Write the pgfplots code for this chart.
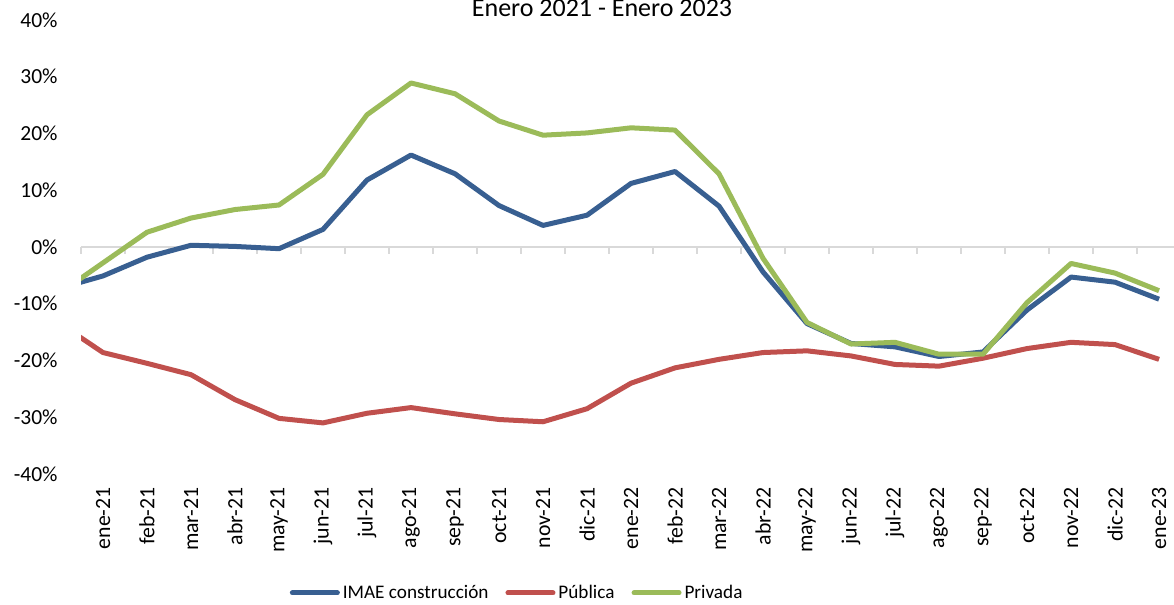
\documentclass[border=0pt]{standalone}
\usepackage{pgfplots}
\pgfplotsset{compat=1.18}
\usepackage{pgfplotstable}
\usepackage{fontspec}
\setmainfont{Carlito}
\definecolor{cblue}{RGB}{56,95,145}
\definecolor{cred}{RGB}{192,80,77}
\definecolor{cgreen}{RGB}{155,187,89}
\definecolor{cgrid}{RGB}{217,217,217}
\pgfplotstableread{
x blue red green
-1 -7.3 -13.4 -8.2
0 -5.1 -18.6 -2.8
1 -1.8 -20.5 2.6
2 0.3 -22.5 5.1
3 0.1 -26.9 6.6
4 -0.3 -30.2 7.4
5 3.1 -31.0 12.8
6 11.8 -29.3 23.3
7 16.2 -28.3 28.9
8 12.9 -29.4 27.0
9 7.3 -30.4 22.2
10 3.8 -30.8 19.7
11 5.6 -28.5 20.1
12 11.2 -24.0 21.0
13 13.3 -21.3 20.6
14 7.2 -19.8 12.9
15 -4.4 -18.6 -2.0
16 -13.5 -18.3 -13.3
17 -17.0 -19.2 -17.1
18 -17.6 -20.7 -16.8
19 -19.3 -21.0 -18.9
20 -18.5 -19.6 -18.9
21 -11.1 -17.9 -9.8
22 -5.3 -16.8 -2.9
23 -6.2 -17.2 -4.6
24 -9.2 -19.8 -7.7
}\data
\begin{document}
\begin{tikzpicture}
\begin{axis}[
  name=ax,
  scale only axis,
  width=546.5bp, height=227bp,
  xmin=-0.5, xmax=24.34,
  ymin=-40, ymax=40,
  clip mode=individual,
  axis line style={draw=none},
  major tick length=0pt,
  xtick={0,...,24},
  xticklabels={ene-21,feb-21,mar-21,abr-21,may-21,jun-21,jul-21,ago-21,sep-21,oct-21,nov-21,dic-21,ene-22,feb-22,mar-22,abr-22,may-22,jun-22,jul-22,ago-22,sep-22,oct-22,nov-22,dic-22,ene-23},
  xticklabel style={font=\fontsize{10.9bp}{12bp}\selectfont, inner sep=0pt, yshift=-6.5bp, rotate=90, anchor=east},
  ytick={-40,-30,...,40},
  yticklabels={-40\%,-30\%,-20\%,-10\%,0\%,10\%,20\%,30\%,40\%},
  yticklabel style={font=\fontsize{10.75bp}{12bp}\selectfont, inner sep=0pt, xshift=-11.5bp, anchor=east},
  legend style={at={(0.3995,-0.262)}, anchor=center, draw=none, fill=none,
    legend columns=3, font=\fontsize{9.6bp}{11bp}\selectfont,
    /tikz/every even column/.append style={column sep=7bp},
    nodes={inner xsep=1.5bp},
    inner sep=0pt},
  legend cell align=left,
  legend image code/.code={\draw[#1, line width=2.5bp, line cap=round] (0bp,0bp) -- (22.5bp,0bp);},
  every axis plot/.append style={line width=2.5bp, line join=round},
]
\draw[cgrid, line width=0.9bp] (axis cs:-0.5,0) -- (axis cs:24.34,0);
\pgfplotsinvokeforeach{-0.5,0.5,...,23.5}{
  \draw[cgrid, line width=0.9bp] (axis cs:#1,0) -- ([yshift=-3.5bp]axis cs:#1,0);
}
\addplot[cblue] table[x=x, y=blue] {\data};
\addlegendentry{IMAE construcción}
\addplot[cred] table[x=x, y=red] {\data};
\addlegendentry{Pública}
\addplot[cgreen] table[x=x, y=green] {\data};
\addlegendentry{Privada}
\node[anchor=base, font=\fontsize{13bp}{15bp}\selectfont] at ([yshift=1.5bp]rel axis cs:0.4767,1) {Enero 2021 - Enero 2023};
\end{axis}
\pgfresetboundingbox
\path[use as bounding box] ([xshift=-40.5bp,yshift=-65.5bp]ax.south west) rectangle ([yshift=10bp]ax.north east);
\end{tikzpicture}
\end{document}
